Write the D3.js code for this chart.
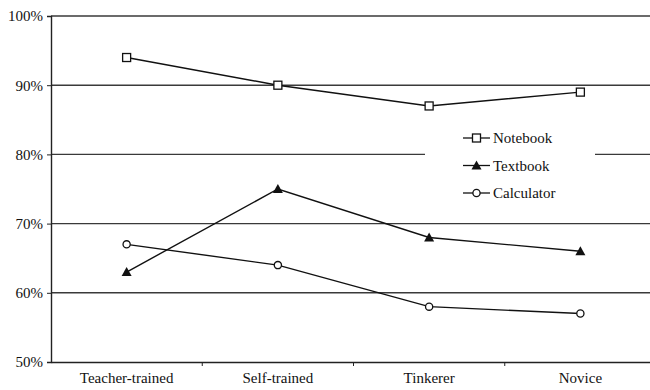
<!DOCTYPE html>
<html><head><meta charset="utf-8">
<script src="https://cdn.jsdelivr.net/npm/d3@7"></script>
<style>body{margin:0;background:#fff}svg{display:block}</style>
</head><body>
<svg id="c" width="650" height="390"></svg>
<script>
const categories = ["Teacher-trained","Self-trained","Tinkerer","Novice"];
const notebook = [94, 90, 87, 89];
const textbook = [63, 75, 68, 66];
const calculator = [67, 64, 58, 57];
const yTicks = [50, 60, 70, 80, 90, 100];
const seriesNames = ["Notebook","Textbook","Calculator"];

(function () {
const svg = d3.select("#c");
const mLeft = 51, mRight = 656, mTop = 16, mBottom = 362;
const fs = 15;
const ff = "'Liberation Serif', 'Times New Roman', Times, serif";

const x = d3.scaleBand().domain(categories).range([mLeft, mRight]);
const y = d3.scaleLinear().domain([50, 100]).range([mBottom, mTop]);

svg.append("g").selectAll("line").data(yTicks.filter(d => d > 50)).join("line")
  .attr("x1", mLeft).attr("x2", mRight)
  .attr("y1", d => y(d)).attr("y2", d => y(d))
  .attr("stroke", "#3a3a3a").attr("stroke-width", 1.4);

const yAxis = d3.axisLeft(y).tickValues(yTicks).tickFormat(d => d + "%").tickSize(4).tickPadding(4);
const ga = svg.append("g").attr("transform", `translate(${mLeft},0)`).call(yAxis);
ga.select(".domain").attr("stroke", "#222").attr("stroke-width", 1.4);
ga.selectAll(".tick line").attr("stroke", "#222");
ga.selectAll("text").style("font-family", ff).style("font-size", fs + "px").attr("fill", "#111");

const xAxis = d3.axisBottom(x).tickSize(0).tickPadding(10);
const gx = svg.append("g").attr("transform", `translate(0,${mBottom})`).call(xAxis);
gx.select(".domain").attr("stroke", "#222").attr("stroke-width", 1.4);
gx.selectAll("text").style("font-family", ff).style("font-size", fs + "px").attr("fill", "#111");
gx.selectAll(".btick").data(categories.slice(1)).join("line")
  .attr("x1", d => x(d)).attr("x2", d => x(d)).attr("y1", 0).attr("y2", 4)
  .attr("stroke", "#222");

svg.append("rect").attr("x", 425).attr("y", 122).attr("width", 170).attr("height", 90).attr("fill", "#fff");

const cx = d => x(d) + x.bandwidth() / 2;
const line = d3.line().x((d, i) => cx(categories[i])).y(d => y(d));

const series = [
  {name: seriesNames[0], values: notebook, shape: "square"},
  {name: seriesNames[1], values: textbook, shape: "triangle"},
  {name: seriesNames[2], values: calculator, shape: "circle"}
];

function marker(g, shape, px, py) {
  if (shape === "square") {
    g.append("rect").attr("x", px - 4).attr("y", py - 4).attr("width", 8).attr("height", 8)
      .attr("fill", "#fff").attr("stroke", "#111").attr("stroke-width", 1.3);
  } else if (shape === "triangle") {
    g.append("path").attr("d", `M${px},${py - 5}L${px + 5},${py + 4}L${px - 5},${py + 4}Z`).attr("fill", "#111");
  } else {
    g.append("circle").attr("cx", px).attr("cy", py).attr("r", 3.6)
      .attr("fill", "#fff").attr("stroke", "#111").attr("stroke-width", 1.3);
  }
}

series.forEach(s => {
  svg.append("path").datum(s.values).attr("d", line)
    .attr("fill", "none").attr("stroke", "#111").attr("stroke-width", 1.4);
  const g = svg.append("g");
  s.values.forEach((v, i) => marker(g, s.shape, cx(categories[i]), y(v)));
});

series.forEach((s, i) => {
  const ly = 138 + i * 27.5;
  const g = svg.append("g");
  g.append("line").attr("x1", 463).attr("x2", 490).attr("y1", ly).attr("y2", ly)
    .attr("stroke", "#111").attr("stroke-width", 1.3);
  marker(g, s.shape, 476.5, ly);
  g.append("text").attr("x", 493).attr("y", ly + 5).text(s.name)
    .style("font-family", ff).style("font-size", fs + "px").attr("fill", "#111");
});
})();
</script>
</body></html>
